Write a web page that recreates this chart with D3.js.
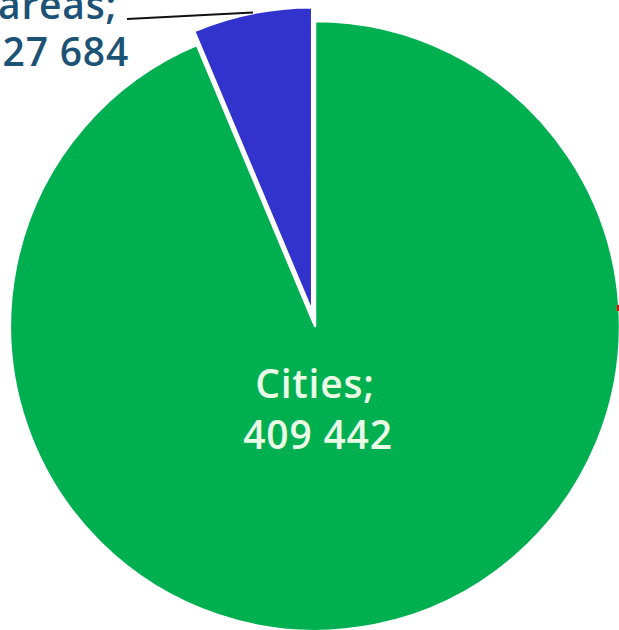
<!DOCTYPE html>
<html>
<head>
<meta charset="utf-8">
<script src="https://cdn.jsdelivr.net/npm/d3@7/dist/d3.min.js"></script>
<style>
  html, body { margin: 0; padding: 0; background: #ffffff; }
  svg { display: block; }
</style>
</head>
<body>
<svg id="chart" width="619" height="630"></svg>
<script>
const categories = ["Rural areas", "Cities"];
const values = [27684, 409442];
const valueLabels = ["27 684", "409 442"];
const colors = ["#3232cc", "#00b050"];

const W = 619, H = 630;
const cx = 315, cy = 326, R = 305;
const explode = 14;

const svg = d3.select("#chart");
const g = svg.append("g").attr("transform", `translate(${cx},${cy})`);

const total = d3.sum(values);
const startA = -values[0] / total * 2 * Math.PI;
const pie = d3.pie().sort(null).value(d => d.value)
  .startAngle(startA).endAngle(startA + 2 * Math.PI);
const data = categories.map((c, i) => ({ cat: c, value: values[i], label: valueLabels[i], color: colors[i] }));
const arcs = pie(data);
const arc = d3.arc().innerRadius(0).outerRadius(R);

g.selectAll("path.slice").data(arcs).join("path")
  .attr("class", "slice")
  .attr("d", arc)
  .attr("fill", d => d.data.color)
  .attr("stroke", "#ffffff")
  .attr("stroke-width", 2.5)
  .attr("stroke-linejoin", "round")
  .attr("transform", (d, i) => {
    if (i !== 0) return null;
    const mid = (d.startAngle + d.endAngle) / 2;
    return `translate(${explode * Math.sin(mid)},${-explode * Math.cos(mid)})`;
  });

// Cities label (inside)
const citiesLabel = svg.append("text")
  .attr("text-anchor", "middle")
  .attr("font-family", "'Open Sans', sans-serif")
  .attr("font-weight", 600)
  .attr("font-size", 39)
  .attr("letter-spacing", 0.8)
  .attr("fill", "#eafbe6");
citiesLabel.append("tspan").attr("x", 315).attr("y", 398).text(categories[1] + ";");
citiesLabel.append("tspan").attr("x", 318).attr("y", 449).text(valueLabels[1]);

// Rural areas label (outside, with leader line)
const ruralLabel = svg.append("text")
  .attr("text-anchor", "end")
  .attr("font-family", "'Open Sans', sans-serif")
  .attr("font-weight", 600)
  .attr("font-size", 39)
  .attr("letter-spacing", 0.8)
  .attr("fill", "#1c5275");
ruralLabel.append("tspan").attr("x", 117).attr("y", 19).text(categories[0] + ";");
ruralLabel.append("tspan").attr("x", 129).attr("y", 66).text(valueLabels[0]);

svg.append("line")
  .attr("x1", 127).attr("y1", 19)
  .attr("x2", 253).attr("y2", 12.5)
  .attr("stroke", "#111111")
  .attr("stroke-width", 2);

// small red mark at right edge
svg.append("rect")
  .attr("x", 617).attr("y", 305).attr("width", 2).attr("height", 6)
  .attr("fill", "#ff0000");
</script>
</body>
</html>
